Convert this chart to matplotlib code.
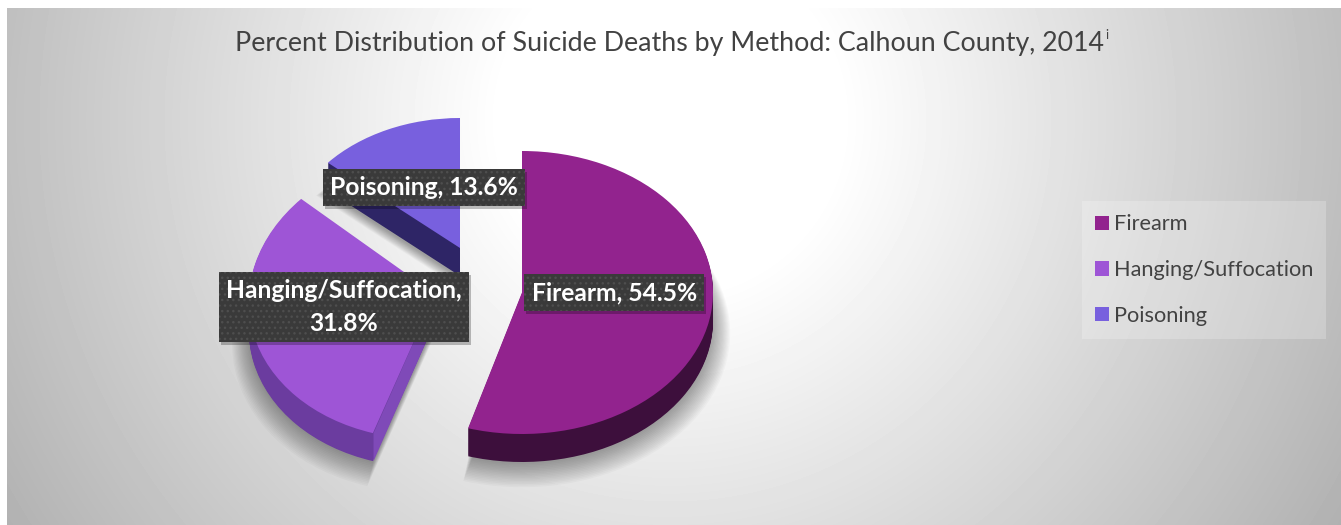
import matplotlib
matplotlib.use("Agg")
import matplotlib.pyplot as plt
import numpy as np
from matplotlib.patches import Patch, Polygon, Rectangle
from matplotlib.transforms import Affine2D

plt.rcParams['font.family'] = ['Lato', 'DejaVu Sans']

title = 'Percent Distribution of Suicide Deaths by Method: Calhoun County, 2014'
categories = ['Firearm', 'Hanging/Suffocation', 'Poisoning']
percents = [54.5, 31.8, 13.6]

# top face, rim and cut face colours
face_colors = ['#92238e', '#9e55d6', '#7860de']
rim_colors = ['#3d0f3c', '#6b3c9f', '#2e2566']
cut_color = '#7f4ab8'

# exploded slice layout in figure pixels: centre x, centre y, radius x, radius y, shear
slice_layout = [(522, 292.5, 191, 141.5, 0), (435, 294, 186, 145, 10), (460, 248, 175, 130, 0)]
depth = 28

W, H = 1341, 525
fig = plt.figure(figsize=(W / 100, H / 100), dpi=100, facecolor='white')
ax = fig.add_axes([0, 0, 1, 1])


def slice_matrix(i, grow=1.0, dx=0, dy=0):
    cx, cy, rx, ry, shear = slice_layout[i]
    return Affine2D(np.array([[rx * grow, shear * grow, cx + dx],
                              [0, -ry * grow, cy + dy],
                              [0, 0, 1.0]]))


def draw_pie(colors, zorder, grow=1.0, dx=0, dy=0, alpha=None):
    wedges, _ = ax.pie(percents, colors=colors, startangle=90, counterclock=False, radius=1,
                       wedgeprops={'linewidth': 0, 'alpha': alpha})
    for i, w in enumerate(wedges):
        w.set_transform(slice_matrix(i, grow, dx, dy) + ax.transData)
        w.set_zorder(zorder)
    return wedges


# soft shadow under the slices
for k in range(16):
    draw_pie(['#000000'] * 3, 2, grow=1.0 + k * 0.006, dy=depth + 2 + k * 0.7, alpha=0.022)

# extrusion, back to front
for d in range(depth, 0, -1):
    draw_pie(rim_colors, 3 + (depth - d) * 0.001, dy=d)

# lighter cut face on the hanging slice
a = np.deg2rad(90 - percents[0] * 3.6)
corner = slice_matrix(1).transform((np.cos(a), np.sin(a)))
apex = slice_matrix(1).transform((0, 0))
ax.add_patch(Polygon([corner, apex, apex + (0, depth), corner + (0, depth)],
                     closed=True, fc=cut_color, lw=0, zorder=3.5))

draw_pie(face_colors, 4)

# radial background
yy, xx = np.mgrid[8:H, 7:W]
dist = np.hypot(xx - 670.0, yy - 120.0)
level = 1.0 - 0.30 * np.clip(dist - 170.0, 0, None) / 600.0
ax.imshow(level, extent=(7, W, H, 8), cmap='gray', vmin=0, vmax=1, aspect='auto', zorder=0)

# pie() switches to equal aspect and its own limits, go back to pixels
ax.set_aspect('auto')
ax.set_xlim(0, W)
ax.set_ylim(H, 0)
ax.set_frame_on(False)
ax.set_xticks([])
ax.set_yticks([])

title_text = ax.text(670, 44, title, ha='center', va='center', fontsize=19.3, color='#424242', zorder=6)
ax.annotate('i', xy=(1, 1), xycoords=title_text, xytext=(0.5, 2), textcoords='offset points',
            fontsize=9, color='#424242', ha='left', va='top', zorder=6)

# data labels
label_pos = [(614.5, 292.5), (344, 307), (424, 187.5)]
label_text = ['%s, %.1f%%' % (c, p) for c, p in zip(categories, percents)]
label_text[1] = '%s,\n%.1f%%' % (categories[1], percents[1])
labels = []
for (x, y), s in zip(label_pos, label_text):
    labels.append(ax.text(x, y, s, ha='center', va='center', fontsize=17.7, fontweight='bold', color='white',
                          linespacing=1.5, zorder=7,
                          bbox=dict(boxstyle='square,pad=0.3', fc='#3a3a3a', ec='#4e4e4e', hatch='...', lw=0)))

fig.canvas.draw()
for t in labels:
    box = t.get_bbox_patch().get_window_extent().transformed(ax.transData.inverted())
    ax.add_patch(Rectangle((box.x0 + 2, min(box.y0, box.y1) + 3), box.width, abs(box.height),
                           fc='black', alpha=0.25, lw=0, zorder=6.5))

handles = [Patch(fc=c, lw=0) for c in face_colors]
leg = ax.legend(handles, categories, loc='center left', bbox_to_anchor=(1082 / W, 1 - 270 / H),
                bbox_transform=fig.transFigure, fontsize=15.7, frameon=True, fancybox=False,
                facecolor='white', edgecolor='none', framealpha=0.22, handlelength=0.64, handleheight=0.64,
                handletextpad=0.22, labelspacing=1.17, borderpad=0.6, borderaxespad=0, labelcolor='#424242')
leg.set_zorder(6)

fig.savefig('out.png', dpi=100)
